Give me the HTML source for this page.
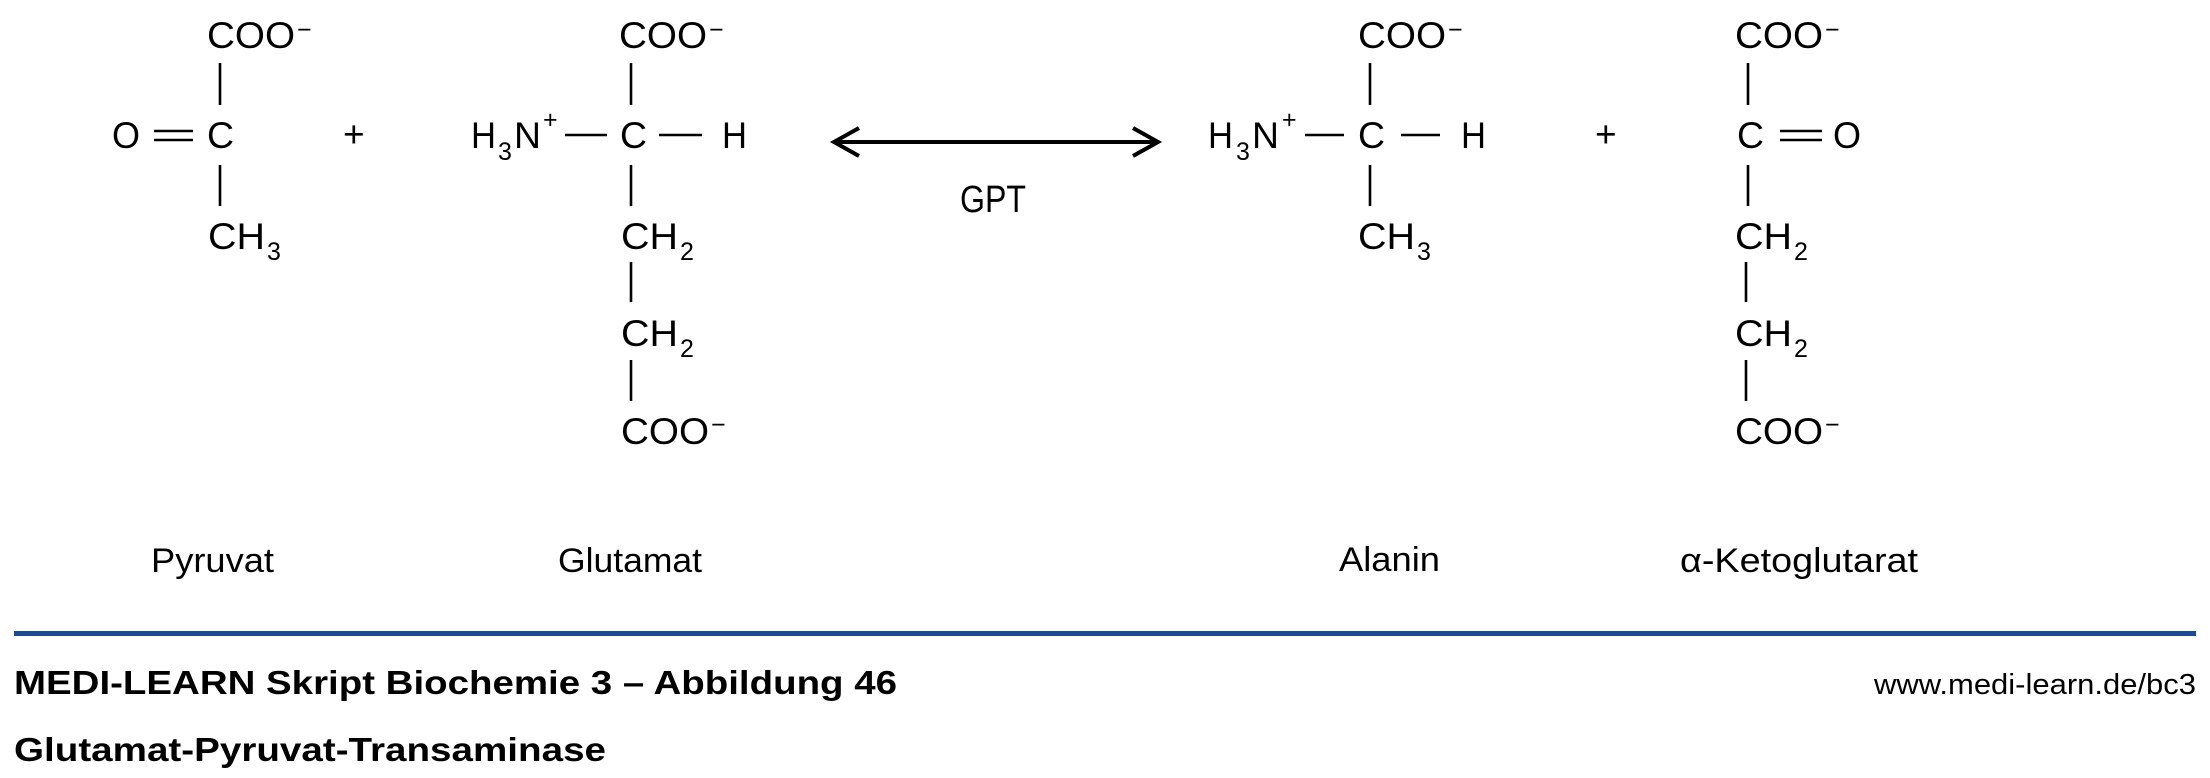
<!DOCTYPE html>
<html><head><meta charset="utf-8"><style>
html,body{margin:0;padding:0;background:#fff;}
svg{display:block;}
text{font-family:"Liberation Sans",sans-serif;fill:#000;}
.c{font-size:37px;}
.s{font-size:25px;}
.l{font-size:34px;}
</style></head><body>
<svg width="2210" height="778" viewBox="0 0 2210 778" xmlns="http://www.w3.org/2000/svg">
<g stroke="#000" stroke-width="2.6" fill="none">
<!-- Pyruvat bonds -->
<line x1="220" y1="63" x2="220" y2="105"/>
<line x1="220" y1="165" x2="220" y2="206"/>
<line x1="154" y1="131" x2="193" y2="131"/>
<line x1="154" y1="140" x2="193" y2="140"/>
<!-- Glutamat bonds -->
<line x1="631" y1="63" x2="631" y2="105"/>
<line x1="631" y1="165" x2="631" y2="206"/>
<line x1="631" y1="262" x2="631" y2="302"/>
<line x1="631" y1="360" x2="631" y2="401"/>
<line x1="565" y1="135" x2="607" y2="135"/>
<line x1="659" y1="135" x2="702" y2="135"/>
<!-- Alanin bonds -->
<line x1="1370" y1="63" x2="1370" y2="105"/>
<line x1="1370" y1="165" x2="1370" y2="206"/>
<line x1="1305" y1="135" x2="1344" y2="135"/>
<line x1="1401" y1="135" x2="1440" y2="135"/>
<!-- Keto bonds -->
<line x1="1748" y1="63" x2="1748" y2="105"/>
<line x1="1748" y1="165" x2="1748" y2="206"/>
<line x1="1746" y1="262" x2="1746" y2="302"/>
<line x1="1746" y1="360" x2="1746" y2="401"/>
<line x1="1780" y1="131" x2="1822" y2="131"/>
<line x1="1780" y1="140" x2="1822" y2="140"/>
</g>
<!-- arrow -->
<g stroke="#000" stroke-width="4" fill="none">
<line x1="834" y1="142" x2="1158" y2="142"/>
<polyline points="859,128 834,142 859,156"/>
<polyline points="1133,128 1158,142 1133,156"/>
</g>
<text x="960" y="212" style="font-size:38px" textLength="66" lengthAdjust="spacingAndGlyphs">GPT</text>

<!-- Pyruvat -->
<text class="c" x="207" y="48" textLength="88" lengthAdjust="spacingAndGlyphs">COO</text>
<text class="s" x="297" y="38">−</text>
<text class="c" x="112" y="148" textLength="28" lengthAdjust="spacingAndGlyphs">O</text>
<text class="c" x="207" y="148" textLength="27" lengthAdjust="spacingAndGlyphs">C</text>
<text class="c" x="208" y="249" textLength="57" lengthAdjust="spacingAndGlyphs">CH</text>
<text class="s" x="267" y="260">3</text>
<text class="c" x="343" y="147">+</text>

<!-- Glutamat -->
<text class="c" x="619" y="48" textLength="88" lengthAdjust="spacingAndGlyphs">COO</text>
<text class="s" x="709" y="38">−</text>
<text class="c" x="471" y="148" textLength="25" lengthAdjust="spacingAndGlyphs">H</text>
<text class="s" x="498" y="160">3</text>
<text class="c" x="514" y="148" textLength="27" lengthAdjust="spacingAndGlyphs">N</text>
<text class="s" x="543" y="128">+</text>
<text class="c" x="620" y="148" textLength="27" lengthAdjust="spacingAndGlyphs">C</text>
<text class="c" x="722" y="148" textLength="25" lengthAdjust="spacingAndGlyphs">H</text>
<text class="c" x="621" y="249" textLength="57" lengthAdjust="spacingAndGlyphs">CH</text>
<text class="s" x="680" y="260">2</text>
<text class="c" x="621" y="346" textLength="57" lengthAdjust="spacingAndGlyphs">CH</text>
<text class="s" x="680" y="357">2</text>
<text class="c" x="621" y="444" textLength="88" lengthAdjust="spacingAndGlyphs">COO</text>
<text class="s" x="711" y="433">−</text>

<!-- Alanin -->
<text class="c" x="1358" y="48" textLength="88" lengthAdjust="spacingAndGlyphs">COO</text>
<text class="s" x="1448" y="38">−</text>
<text class="c" x="1208" y="148" textLength="25" lengthAdjust="spacingAndGlyphs">H</text>
<text class="s" x="1236" y="160">3</text>
<text class="c" x="1252" y="148" textLength="27" lengthAdjust="spacingAndGlyphs">N</text>
<text class="s" x="1282" y="128">+</text>
<text class="c" x="1358" y="148" textLength="27" lengthAdjust="spacingAndGlyphs">C</text>
<text class="c" x="1461" y="148" textLength="25" lengthAdjust="spacingAndGlyphs">H</text>
<text class="c" x="1358" y="249" textLength="57" lengthAdjust="spacingAndGlyphs">CH</text>
<text class="s" x="1417" y="260">3</text>
<text class="c" x="1595" y="147">+</text>

<!-- Ketoglutarat -->
<text class="c" x="1735" y="48" textLength="88" lengthAdjust="spacingAndGlyphs">COO</text>
<text class="s" x="1825" y="38">−</text>
<text class="c" x="1737" y="148" textLength="27" lengthAdjust="spacingAndGlyphs">C</text>
<text class="c" x="1833" y="148" textLength="28" lengthAdjust="spacingAndGlyphs">O</text>
<text class="c" x="1735" y="249" textLength="57" lengthAdjust="spacingAndGlyphs">CH</text>
<text class="s" x="1794" y="260">2</text>
<text class="c" x="1735" y="346" textLength="57" lengthAdjust="spacingAndGlyphs">CH</text>
<text class="s" x="1794" y="357">2</text>
<text class="c" x="1735" y="444" textLength="88" lengthAdjust="spacingAndGlyphs">COO</text>
<text class="s" x="1825" y="433">−</text>

<!-- labels -->
<text class="l" x="151" y="572" textLength="123" lengthAdjust="spacingAndGlyphs">Pyruvat</text>
<text class="l" x="558" y="572" textLength="144" lengthAdjust="spacingAndGlyphs">Glutamat</text>
<text class="l" x="1339" y="571" textLength="101" lengthAdjust="spacingAndGlyphs">Alanin</text>
<text class="l" x="1680" y="572" textLength="238" lengthAdjust="spacingAndGlyphs">α-Ketoglutarat</text>

<!-- footer -->
<rect x="14" y="631" width="2182" height="5" fill="#1b4a93"/>
<text x="14" y="694" style="font-size:33px;font-weight:bold" textLength="883" lengthAdjust="spacingAndGlyphs">MEDI-LEARN Skript Biochemie 3 – Abbildung 46</text>
<text x="14" y="761" style="font-size:33px;font-weight:bold" textLength="592" lengthAdjust="spacingAndGlyphs">Glutamat-Pyruvat-Transaminase</text>
<text x="1874" y="694" style="font-size:29px" textLength="322" lengthAdjust="spacingAndGlyphs">www.medi-learn.de/bc3</text>
</svg>
</body></html>
